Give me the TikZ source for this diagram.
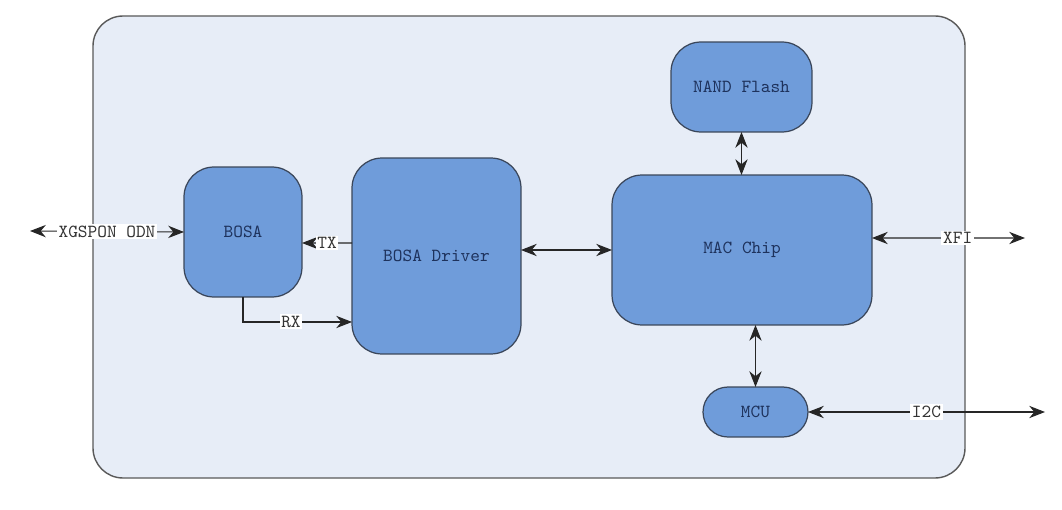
\documentclass[tikz,border=0pt]{standalone}
\usepackage{tikz}
\usetikzlibrary{arrows.meta, calc}
\definecolor{panel}{RGB}{231, 237, 247}
\definecolor{block}{RGB}{111, 156, 218}
\definecolor{edge}{RGB}{58, 70, 90}
\definecolor{ink}{RGB}{30, 50, 92}

\tikzset{
  unit/.style={draw=edge, fill=block, line width=0.7pt, rounded corners=0.6cm,
    inner sep=0pt, outer sep=0pt, text=ink, font=\ttfamily\fontsize{10.5}{12}\selectfont},
  link/.style={line width=0.6pt, color=black!85, {Stealth[length=9pt,width=7pt]}-{Stealth[length=9pt,width=7pt]}},
  oneway/.style={line width=0.6pt, color=black!85, -{Stealth[length=9pt,width=7pt]}},
  tag/.style={fill=white, inner sep=1pt, text=black!80, font=\ttfamily\fontsize{10.5}{12}\selectfont}
}

\begin{document}
\begin{tikzpicture}[x=0.02cm, y=-0.02cm]
  \useasboundingbox (0, 0) rectangle (1062, 510);

  % module outline
  \draw[draw=black!65, fill=panel, line width=0.8pt, rounded corners=0.6cm] (93, 16) rectangle (965, 478);

  \node[unit, minimum width=2.36cm, minimum height=2.6cm] (bosa) at (243, 232) {BOSA};
  \node[unit, minimum width=3.38cm, minimum height=3.92cm] (driver) at (436.5, 256) {BOSA Driver};
  \node[unit, minimum width=2.82cm, minimum height=1.8cm] (nand) at (741.5, 87) {NAND Flash};
  \node[unit, minimum width=5.2cm, minimum height=3.0cm] (mac) at (742, 250) {MAC Chip};
  \node[unit, minimum width=2.1cm, minimum height=1.0cm, rounded corners=0.5cm] (mcu) at (755.5, 412) {MCU};

  \coordinate (odn) at (30, 231);
  \coordinate (xfi) at (1025, 238);
  \coordinate (itc) at (1045, 412);

  \draw[link] (odn) -- node[tag] {XGSPON ODN} (bosa.west);
  \draw[oneway] ([yshift=0.26cm]driver.west) -- node[tag] {TX} ([yshift=-0.22cm]bosa.east);
  \draw[oneway] (bosa.south) |- node[tag, pos=0.72] {RX} ([yshift=-1.32cm]driver.west);
  \draw[link] (driver.east |- mac) -- (mac.west);
  \draw[link] (nand.south) -- (nand.south |- mac.north);
  \draw[link] (mcu.north |- mac.south) -- (mcu.north);
  \draw[link] ([yshift=0.24cm]mac.east) -- node[tag, pos=0.56] {XFI} (xfi);
  \draw[link] (mcu.east) -- node[tag] {I2C} (itc);

\end{tikzpicture}
\end{document}
